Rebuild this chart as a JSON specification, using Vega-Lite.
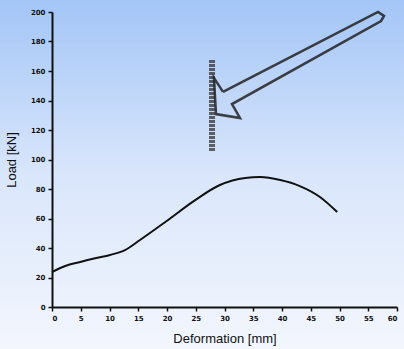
{
  "$schema": "https://vega.github.io/schema/vega-lite/v6.json",
  "width": 345,
  "height": 295,
  "autosize": {"type": "none"},
  "padding": {"left": 52, "top": 12, "right": 7, "bottom": 42},
  "background": "#e4edfc",
  "config": {
    "view": {"stroke": null},
    "font": "Liberation Sans",
    "axis": {
      "grid": false,
      "domainColor": "#111111",
      "domainWidth": 2,
      "tickColor": "#111111",
      "tickWidth": 1.5,
      "tickSize": 4,
      "labelFont": "DejaVu Sans",
      "labelFontSize": 7,
      "labelFontWeight": "bold",
      "labelColor": "#111111",
      "labelPadding": 3,
      "titleFont": "Liberation Sans",
      "titleFontSize": 13,
      "titleFontWeight": "normal",
      "titleColor": "#111111"
    },
    "axisX": {"titlePadding": 11},
    "axisY": {"titlePadding": 12}
  },
  "datasets": {
    "curve": [
      {"d": 0, "load": 23.7},
      {"d": 2.3, "load": 27.8},
      {"d": 4.9, "load": 30.5},
      {"d": 7.5, "load": 33.0},
      {"d": 10.1, "load": 35.3},
      {"d": 12.7, "load": 38.6},
      {"d": 15.3, "load": 45.4},
      {"d": 19.7, "load": 57.6},
      {"d": 24.9, "load": 72.5},
      {"d": 29.2, "load": 82.7},
      {"d": 33.6, "load": 87.5},
      {"d": 36.2, "load": 88.1},
      {"d": 39.7, "load": 86.1},
      {"d": 43.1, "load": 82.0},
      {"d": 46.6, "load": 74.6},
      {"d": 49.6, "load": 64.4}
    ],
    "arrow": [
      {"i": 1, "d": 29.74, "load": 145.8},
      {"i": 2, "d": 56.70, "load": 200.0},
      {"i": 3, "d": 57.74, "load": 197.3},
      {"i": 4, "d": 57.22, "load": 193.9},
      {"i": 5, "d": 31.30, "load": 137.6},
      {"i": 6, "d": 32.70, "load": 128.1},
      {"i": 7, "d": 28.52, "load": 130.8},
      {"i": 8, "d": 28.17, "load": 155.3},
      {"i": 9, "d": 29.74, "load": 145.8}
    ],
    "strip": [
      {"i": 1, "d": 27.83, "load": 167.5},
      {"i": 2, "d": 27.83, "load": 105.1}
    ]
  },
  "layer": [
    {
      "data": {"values": [{"a": 1}]},
      "mark": {
        "type": "rect",
        "clip": false,
        "fill": {
          "gradient": "linear",
          "x1": 0, "y1": 0, "x2": 0, "y2": 1,
          "stops": [
            {"offset": 0, "color": "#a3c5f7"},
            {"offset": 0.5, "color": "#d9e6fb"},
            {"offset": 1, "color": "#f3f6fd"}
          ]
        }
      },
      "encoding": {
        "x": {"datum": -9.3, "type": "quantitative", "scale": {"domain": [0, 60], "nice": false}, "axis": {"zindex": 2, "title": "Deformation [mm]", "values": [0,5,10,15,20,25,30,35,40,45,50,55,60]}},
        "x2": {"datum": 61.4},
        "y": {"datum": -29, "type": "quantitative", "scale": {"domain": [0, 200], "nice": false}, "axis": {"zindex": 2, "title": "Load [kN]", "values": [0,20,40,60,80,100,120,140,160,180,200]}},
        "y2": {"datum": 209}
      }
    },
    {
      "data": {"name": "strip"},
      "mark": {"type": "line", "color": "#333333", "strokeWidth": 6, "opacity": 0.75, "strokeDash": [3, 1]},
      "encoding": {
        "x": {"field": "d", "type": "quantitative", "axis": {"zindex": 2, "title": "Deformation [mm]", "values": [0,5,10,15,20,25,30,35,40,45,50,55,60]}},
        "y": {"field": "load", "type": "quantitative", "axis": {"zindex": 2, "title": "Load [kN]", "values": [0,20,40,60,80,100,120,140,160,180,200]}},
        "order": {"field": "i"}
      }
    },
    {
      "data": {"name": "arrow"},
      "mark": {"type": "line", "color": "#222222", "strokeWidth": 2.5, "opacity": 0.85},
      "encoding": {
        "x": {"field": "d", "type": "quantitative", "axis": {"zindex": 2, "title": "Deformation [mm]", "values": [0,5,10,15,20,25,30,35,40,45,50,55,60]}},
        "y": {"field": "load", "type": "quantitative", "axis": {"zindex": 2, "title": "Load [kN]", "values": [0,20,40,60,80,100,120,140,160,180,200]}},
        "order": {"field": "i"}
      }
    },
    {
      "data": {"name": "curve"},
      "mark": {"type": "line", "color": "#111111", "strokeWidth": 2, "interpolate": "monotone"},
      "encoding": {
        "x": {"field": "d", "type": "quantitative", "axis": {"zindex": 2, "title": "Deformation [mm]", "values": [0,5,10,15,20,25,30,35,40,45,50,55,60]}},
        "y": {"field": "load", "type": "quantitative", "axis": {"zindex": 2, "title": "Load [kN]", "values": [0,20,40,60,80,100,120,140,160,180,200]}}
      }
    }
  ]
}
